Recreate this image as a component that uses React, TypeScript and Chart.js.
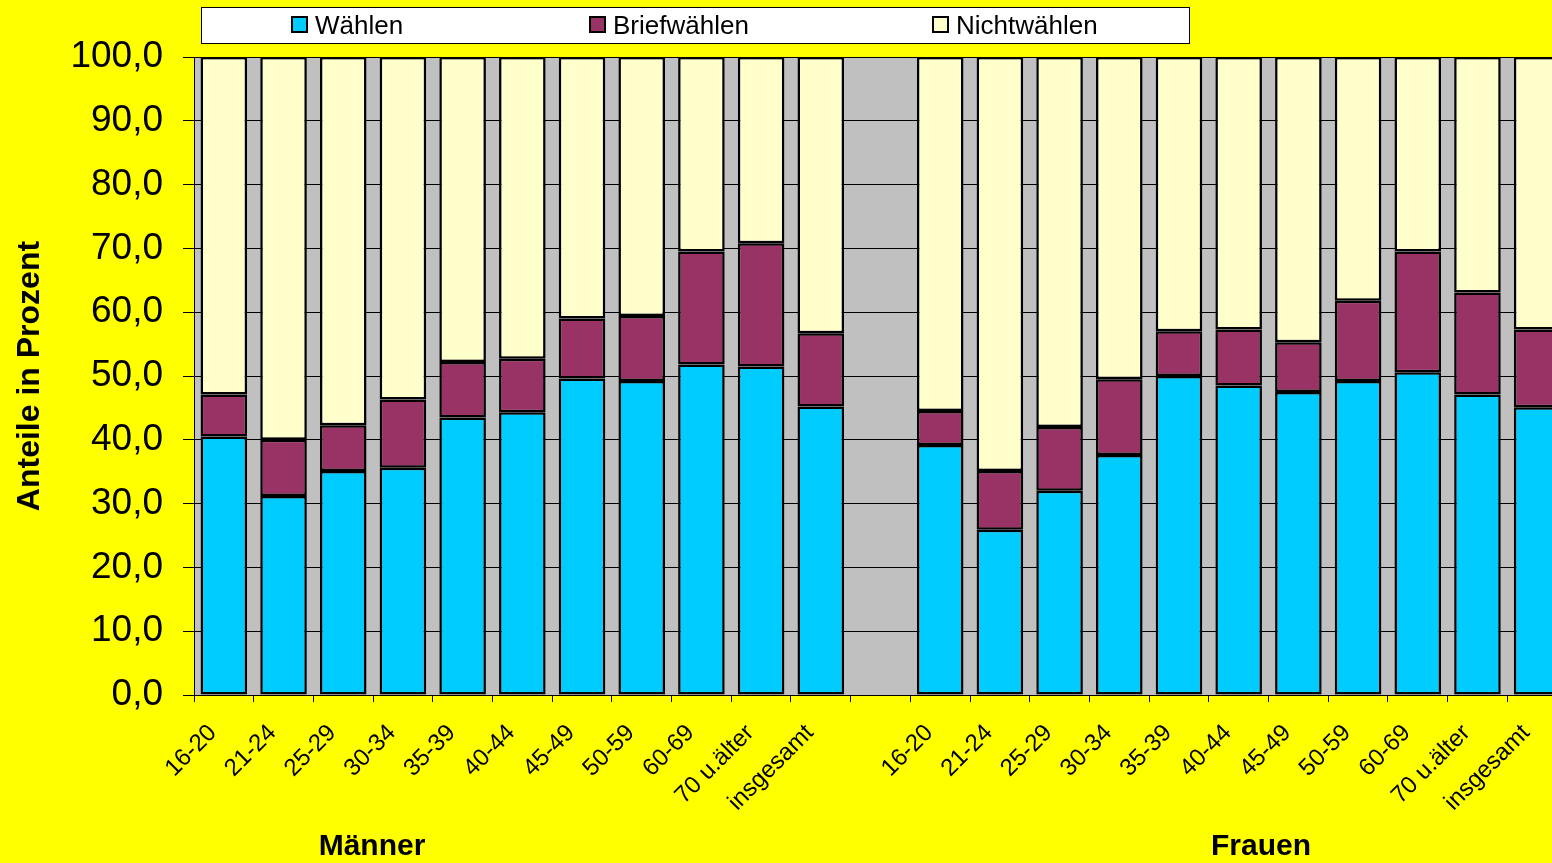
import React, { useEffect, useRef } from 'react';
import { Chart, registerables } from 'chart.js';

Chart.register(...registerables);

const categories = [
  '16-20', '21-24', '25-29', '30-34', '35-39', '40-44', '45-49', '50-59', '60-69', '70 u.älter', 'insgesamt',
  '',
  '16-20', '21-24', '25-29', '30-34', '35-39', '40-44', '45-49', '50-59', '60-69', '70 u.älter', 'insgesamt',
];
const waehlen = [40.5, 31.2, 35.1, 35.6, 43.5, 44.3, 49.6, 49.2, 51.8, 51.5, 45.2, null, 39.2, 25.9, 32.0, 37.6, 50.0, 48.5, 47.5, 49.2, 50.6, 47.1, 45.1];
const briefwaehlen = [6.6, 8.8, 7.2, 10.7, 8.7, 8.4, 9.4, 10.2, 17.7, 19.3, 11.5, null, 5.3, 9.2, 10.0, 11.9, 7.0, 8.8, 7.8, 12.6, 18.9, 16.0, 12.2];
const nichtwaehlen = [52.9, 60.0, 57.7, 53.7, 47.8, 47.3, 41.0, 40.6, 30.5, 29.2, 43.3, null, 55.5, 64.9, 58.0, 50.5, 43.0, 42.7, 44.7, 38.2, 30.5, 36.9, 42.7];
const seriesNames = ['Wählen', 'Briefwählen', 'Nichtwählen'];
const groupLabels = ['Männer', 'Frauen'];
const yTitle = 'Anteile in Prozent';

const FONT = "'Liberation Sans', Arial, sans-serif";
const COLORS = ['#00CCFF', '#993366', '#FFFFCC'];

const decor = {
  id: 'decor',
  beforeDraw(chart: any) {
    const { ctx, chartArea } = chart;
    ctx.save();
    ctx.fillStyle = '#C0C0C0';
    ctx.fillRect(chartArea.left, chartArea.top, chartArea.right - chartArea.left, chartArea.bottom - chartArea.top);
    ctx.restore();
  },
  afterDraw(chart: any) {
    const { ctx } = chart;
    ctx.save();
    // legend box
    ctx.fillStyle = '#FFFFFF';
    ctx.fillRect(201, 7, 988, 36);
    ctx.strokeStyle = '#000000';
    ctx.lineWidth = 1;
    ctx.strokeRect(201.5, 7.5, 988, 36);
    const items = [292, 590, 933];
    ctx.font = `26px ${FONT}`;
    ctx.textBaseline = 'middle';
    ctx.textAlign = 'left';
    chart.data.datasets.forEach((ds: any, i: number) => {
      const x = items[i];
      ctx.fillStyle = ds.backgroundColor;
      ctx.fillRect(x, 17, 15, 15);
      ctx.lineWidth = 2;
      ctx.strokeStyle = '#000';
      ctx.strokeRect(x, 17, 15, 15);
      ctx.fillStyle = '#000';
      ctx.fillText(ds.label, x + 23, 27);
    });
    // group labels
    ctx.font = `bold 30px ${FONT}`;
    ctx.textAlign = 'center';
    ctx.textBaseline = 'middle';
    ctx.fillStyle = '#000';
    ctx.fillText(groupLabels[0], 372, 847);
    ctx.fillText(groupLabels[1], 1261, 847);
    ctx.restore();
  },
};

export default function App() {
  const ref = useRef<HTMLCanvasElement | null>(null);
  useEffect(() => {
    if (!ref.current) return;
    const chart = new Chart(ref.current, {
      type: 'bar',
      data: {
        labels: categories,
        datasets: [waehlen, briefwaehlen, nichtwaehlen].map((d, i) => ({
          label: seriesNames[i],
          data: d,
          backgroundColor: COLORS[i],
          borderColor: '#000000',
          borderWidth: 2.5,
          borderSkipped: false,
          barPercentage: 0.78,
          categoryPercentage: 1,
        })),
      },
      options: {
        responsive: false,
        animation: false,
        devicePixelRatio: 1,
        layout: { padding: { left: 0, top: 57, right: 8, bottom: 0 } },
        plugins: { legend: { display: false }, tooltip: { enabled: false } },
        scales: {
          x: {
            stacked: true,
            afterFit: (s: any) => { s.height = 168; },
            grid: { display: true, drawOnChartArea: false, drawTicks: true, tickLength: 7, color: '#000', offset: true },
            border: { display: true, color: '#000', width: 1 },
            ticks: {
              autoSkip: false,
              maxRotation: 45,
              minRotation: 45,
              color: '#000',
              font: { family: FONT, size: 24 },
              padding: 17,
              labelOffset: -11,
            },
          },
          y: {
            stacked: true,
            min: 0,
            max: 100,
            afterFit: (s: any) => { s.width = 194; },
            grid: { color: '#000', lineWidth: 1, tickLength: 11, drawTicks: true },
            border: { display: true, color: '#000', width: 1 },
            ticks: {
              stepSize: 10,
              color: '#000',
              padding: 20,
              font: { family: FONT, size: 37 },
              callback: (v: any) => Number(v).toFixed(1).replace('.', ','),
            },
            title: {
              display: true,
              text: yTitle,
              color: '#000',
              font: { family: FONT, size: 32, weight: 'bold' },
              padding: { top: 11, bottom: 0 },
            },
          },
        },
      },
      plugins: [decor],
    });
    return () => chart.destroy();
  }, []);
  return (
    <div style={{ position: 'fixed', left: 0, top: 0, width: 1552, height: 863, overflow: 'hidden', background: '#FFFF00' }}>
      <canvas ref={ref} width={1575} height={863} style={{ display: 'block', width: 1575, height: 863 }} />
    </div>
  );
}
